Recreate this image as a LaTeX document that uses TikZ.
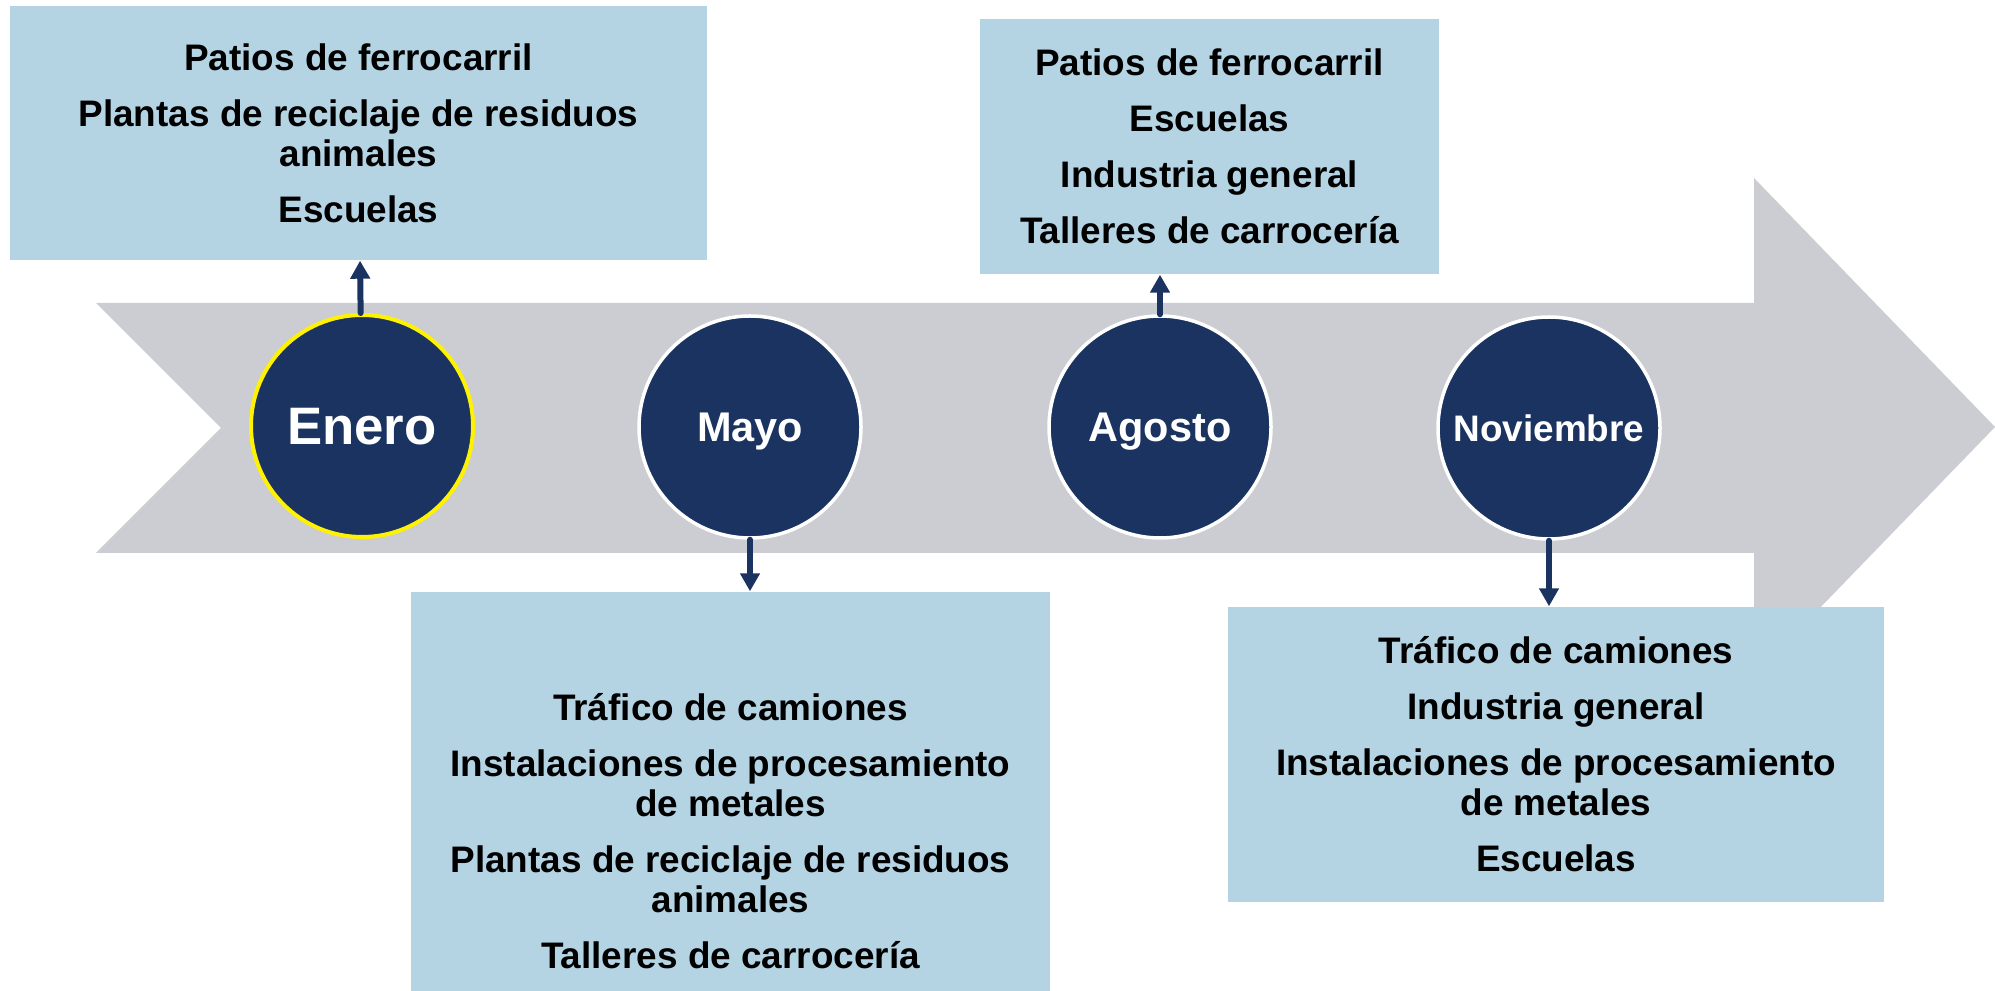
\documentclass[tikz,border=0pt]{standalone}
\usepackage{fontspec}
\setmainfont{Liberation Sans}
\usetikzlibrary{arrows.meta}
\definecolor{azul}{RGB}{27,51,96}
\definecolor{celeste}{RGB}{180,211,227}
\definecolor{gris}{RGB}{203,205,210}
\begin{document}
\begin{tikzpicture}[
  mes/.style={circle,fill=azul,draw=white,line width=0.035cm,minimum size=2.22cm,inner sep=0pt,text=white,text depth=0pt},
  caja/.style={fill=celeste,inner sep=0pt,align=center,font=\fontsize{10.5}{11.4}\selectfont\bfseries},
  flecha/.style={azul,line width=0.06cm,line cap=round,-{Triangle[length=0.18cm,width=0.19cm]}}]
\clip (0,0) rectangle (19.95,9.9);
% flecha de fondo
\fill[gris] (0.96,6.87) -- (17.54,6.87) -- (17.54,8.12) -- (19.95,5.63) -- (17.54,3.14) -- (17.54,4.37) -- (0.96,4.37) -- (2.21,5.62) -- cycle;
\node[caja,minimum width=6.97cm,minimum height=2.54cm] (cajaenero) at (3.585,8.57)
  {Patios de ferrocarril\\[4.5pt] Plantas de reciclaje de residuos\\ animales\\[4.5pt] Escuelas};
\node[caja,minimum width=4.59cm,minimum height=2.55cm] (cajaagosto) at (12.095,8.435)
  {Patios de ferrocarril\\[4.5pt] Escuelas\\[4.5pt] Industria general\\[4.5pt] Talleres de carrocería};
\node[caja,minimum width=6.39cm,minimum height=4.78cm] (cajamayo) at (7.305,1.59)
  {Tráfico de camiones\\[4.5pt] Instalaciones de procesamiento\\ de metales\\[4.5pt] Plantas de reciclaje de residuos\\ animales\\[4.5pt] Talleres de carrocería};
\node[caja,minimum width=6.56cm,minimum height=2.95cm] (cajanoviembre) at (15.56,2.355)
  {Tráfico de camiones\\[4.5pt] Industria general\\[4.5pt] Instalaciones de procesamiento\\ de metales\\[4.5pt] Escuelas};
\node[mes,draw=yellow,line width=0.04cm,font=\fontsize{15}{18}\selectfont\bfseries] (enero) at (3.62,5.64) {Enero};
\node[mes,font=\fontsize{11.8}{14}\selectfont\bfseries] (mayo) at (7.50,5.63) {Mayo};
\node[mes,font=\fontsize{11.8}{14}\selectfont\bfseries] (agosto) at (11.60,5.63) {Agosto};
\node[mes,font=\fontsize{10.5}{13}\selectfont\bfseries] (noviembre) at (15.49,5.62) {Noviembre};
\draw[flecha] (enero) -- (cajaenero);
\draw[flecha] (mayo) -- (mayo |- cajamayo.north);
\draw[flecha] (agosto) -- (agosto |- cajaagosto.south);
\draw[flecha] (noviembre) -- (noviembre |- cajanoviembre.north);
\end{tikzpicture}
\end{document}
